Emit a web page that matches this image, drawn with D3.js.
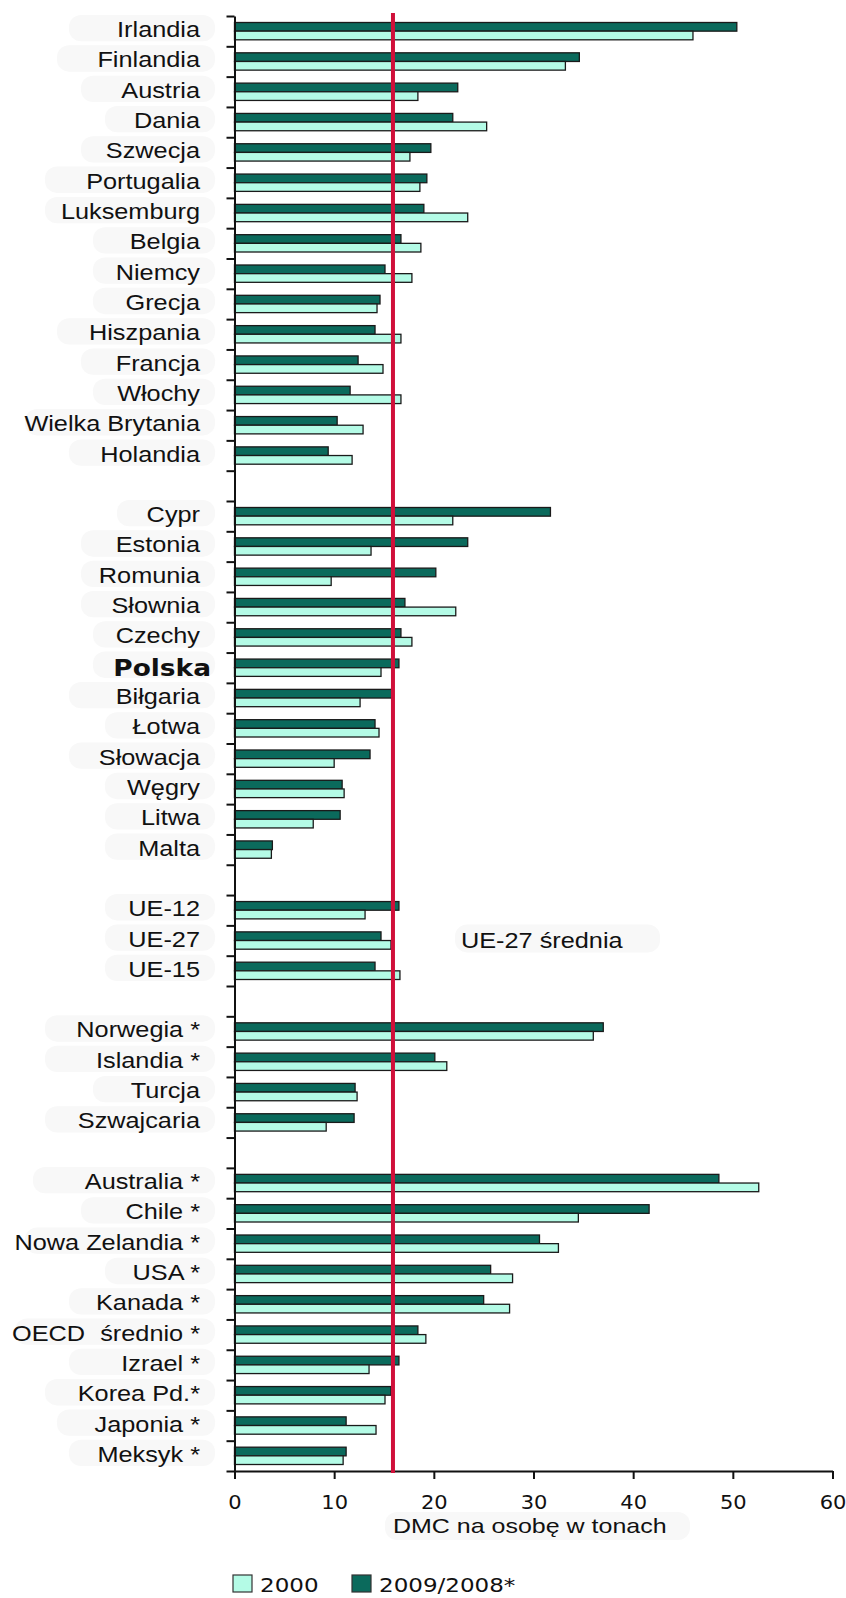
<!DOCTYPE html>
<html>
<head>
<meta charset="utf-8">
<script src="https://cdn.jsdelivr.net/npm/d3@7"></script>
<style>
  body { margin: 0; background: #fff; }
</style>
</head>
<body>
<div id="chart"></div>
<script>
// categories top to bottom, "" = empty slot between groups
const categories = [
  "Irlandia", "Finlandia", "Austria", "Dania", "Szwecja", "Portugalia", "Luksemburg", "Belgia",
  "Niemcy", "Grecja", "Hiszpania", "Francja", "Włochy", "Wielka Brytania", "Holandia", "",
  "Cypr", "Estonia", "Romunia", "Słownia", "Czechy", "Polska", "Biłgaria", "Łotwa",
  "Słowacja", "Węgry", "Litwa", "Malta", "",
  "UE-12", "UE-27", "UE-15", "",
  "Norwegia *", "Islandia *", "Turcja", "Szwajcaria", "",
  "Australia *", "Chile *", "Nowa Zelandia *", "USA *", "Kanada *", "OECD średnio *",
  "Izrael *", "Korea Pd.*", "Japonia *", "Meksyk *"
]
const values2009 = [
  50.4, 34.6, 22.4, 21.9, 19.7, 19.3, 19.0, 16.7,
  15.1, 14.6, 14.1, 12.4, 11.6, 10.3, 9.4, null,
  31.7, 23.4, 20.2, 17.1, 16.7, 16.5, 15.8, 14.1,
  13.6, 10.8, 10.6, 3.8, null,
  16.5, 14.7, 14.1, null,
  37.0, 20.1, 12.1, 12.0, null,
  48.6, 41.6, 30.6, 25.7, 25.0, 18.4,
  16.5, 15.7, 11.2, 11.2
]
const values2000 = [
  46.0, 33.2, 18.4, 25.3, 17.6, 18.6, 23.4, 18.7,
  17.8, 14.3, 16.7, 14.9, 16.7, 12.9, 11.8, null,
  21.9, 13.7, 9.7, 22.2, 17.8, 14.7, 12.6, 14.5,
  10.0, 11.0, 7.9, 3.7, null,
  13.1, 15.7, 16.6, null,
  36.0, 21.3, 12.3, 9.2, null,
  52.6, 34.5, 32.5, 27.9, 27.6, 19.2,
  13.5, 15.1, 14.2, 10.9
]
const xTicks = [0, 10, 20, 30, 40, 50, 60]
const ue27Average = 15.9
const seriesNames = ["2000", "2009/2008*"]

const width = 846
const height = 1598
const margin = ({ top: 16, left: 234.5, right: 13.5, bottom: 127 })
const darkColor = "#0b6a5c"
const lightColor = "#b4fbe6"
const redColor = "#d0103a"

const svg = d3.select("#chart")
  .append("svg")
  .attr("width", width)
  .attr("height", height)
  .attr("viewBox", [0, 0, width, height])

const x = d3.scaleLinear()
  .domain([0, 60])
  .range([margin.left, width - margin.right])

const slots = d3.range(categories.length)
const y = d3.scaleBand()
  .domain(slots)
  .range([margin.top, height - margin.bottom])

const ySub = d3.scaleBand()
  .domain(["d", "l"])
  .range([0, y.bandwidth()])
  .paddingOuter(0.75)

// text in the picture is stretched sideways, so scale each text horizontally
const stretchText = (g, px, py, txt, opt) => {
  const t = g.append("text")
    .attr("transform", `translate(${px},${py}) scale(${opt.k || 1.15},1)`)
    .attr("font-family", opt.family || "'Liberation Sans', Arial, sans-serif")
    .attr("font-size", opt.size || 22)
    .attr("font-weight", opt.weight || "normal")
    .attr("text-anchor", opt.anchor || "end")
    .attr("fill", "#111")
    .text(txt)
  return t
}

// faint label backgrounds
const bg = svg.append("g").attr("fill", "#f8f8f8")
categories.forEach((c, i) => {
  if (c === "") return
  const w = c.startsWith("OECD") ? 200 : Math.min(190, c.length * 12 + 50)
  bg.append("rect")
    .attr("x", 215 - w)
    .attr("y", y(i) - 1)
    .attr("width", w)
    .attr("height", y.step() - 4)
    .attr("rx", 12)
})
bg.append("rect").attr("x", 455).attr("y", y(30) - 1).attr("width", 205).attr("height", 28).attr("rx", 12)
bg.append("rect").attr("x", 385).attr("y", 1512).attr("width", 305).attr("height", 28).attr("rx", 12)

// bars
const bars = svg.append("g")
  .attr("stroke", "#1a1a1a")
  .attr("stroke-width", 1.3)

bars.selectAll("rect.dark")
  .data(slots.filter(i => values2009[i] !== null))
  .join("rect")
  .attr("class", "dark")
  .attr("x", x(0))
  .attr("y", i => y(i) + ySub("d"))
  .attr("width", i => x(values2009[i]) - x(0))
  .attr("height", ySub.bandwidth())
  .attr("fill", darkColor)

bars.selectAll("rect.light")
  .data(slots.filter(i => values2000[i] !== null))
  .join("rect")
  .attr("class", "light")
  .attr("x", x(0))
  .attr("y", i => y(i) + ySub("l"))
  .attr("width", i => x(values2000[i]) - x(0))
  .attr("height", ySub.bandwidth())
  .attr("fill", lightColor)

// y axis, ticks at slot boundaries
const yIdx = d3.scaleLinear()
  .domain([0, categories.length])
  .range([margin.top, height - margin.bottom])

svg.append("g")
  .attr("transform", `translate(${x(0)},0)`)
  .call(d3.axisLeft(yIdx).tickValues(d3.range(categories.length + 1)).tickFormat("").tickSize(8).tickSizeOuter(0))
  .call(g => g.select(".domain").attr("stroke", "#111").attr("stroke-width", 2))
  .call(g => g.selectAll(".tick line").attr("stroke", "#111").attr("stroke-width", 2))

// x axis
svg.append("g")
  .attr("transform", `translate(0,${height - margin.bottom})`)
  .call(d3.axisBottom(x).tickValues(xTicks).tickSize(8).tickSizeOuter(0))
  .call(g => g.select(".domain").attr("stroke", "#111").attr("stroke-width", 2))
  .call(g => g.selectAll(".tick line").attr("stroke", "#111").attr("stroke-width", 2))
  .call(g => g.selectAll(".tick text")
    .attr("font-family", "'DejaVu Sans', Verdana, sans-serif")
    .attr("font-size", 20)
    .attr("fill", "#111")
    .attr("y", 38)
    .attr("dy", 0)
    .attr("transform", "scale(1.05,1)"))

// UE-27 average line
svg.append("line")
  .attr("x1", x(ue27Average))
  .attr("x2", x(ue27Average))
  .attr("y1", 13)
  .attr("y2", height - margin.bottom + 2)
  .attr("stroke", redColor)
  .attr("stroke-width", 4)

// category labels
const labels = svg.append("g")
categories.forEach((c, i) => {
  if (c === "") return
  const by = y(i) + y.step() / 2 + 6
  if (c === "Polska") {
    stretchText(labels, 211, by + 2, c, { family: "'DejaVu Sans', sans-serif", weight: "bold", size: 23 })
  } else if (c.startsWith("OECD")) {
    stretchText(labels, 12, by, "OECD", { anchor: "start" })
    stretchText(labels, 200, by, c.replace("OECD ", ""), {})
  } else {
    stretchText(labels, 200, by, c, {})
  }
})

stretchText(svg, 461, y(30) + y.step() / 2 + 7, "UE-27 średnia", { anchor: "start" })
stretchText(svg, 393, 1533, "DMC na osobę w tonach", { anchor: "start", size: 21, k: 1.19 })

// legend
const legend = svg.append("g")
const legendItems = [[seriesNames[0], lightColor, 233], [seriesNames[1], darkColor, 352]]
legendItems.forEach(d => {
  legend.append("rect")
    .attr("x", d[2])
    .attr("y", 1575)
    .attr("width", 19)
    .attr("height", 17)
    .attr("fill", d[1])
    .attr("stroke", "#333")
    .attr("stroke-width", 1.2)
  stretchText(legend, d[2] + 27, 1592, d[0], { anchor: "start", family: "'DejaVu Sans', Verdana, sans-serif", size: 20, k: 1.15 })
})
</script>
</body>
</html>
